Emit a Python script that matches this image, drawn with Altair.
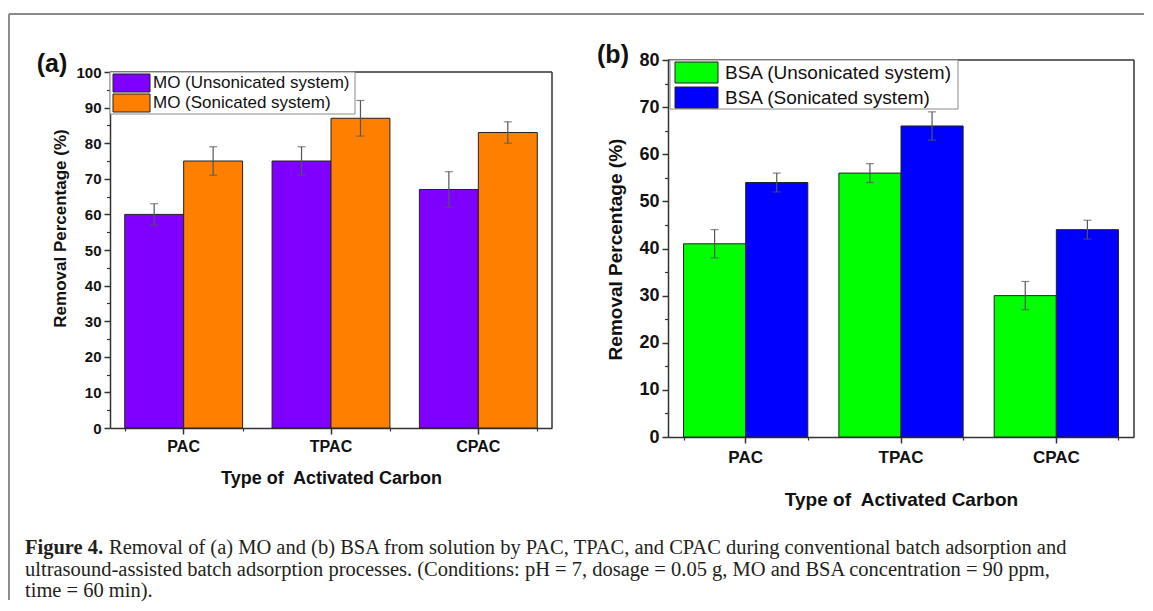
import altair as alt
import pandas as pd

# ---------------- data ----------------
categories = ["PAC", "TPAC", "CPAC"]

mo_series = ["MO (Unsonicated system)", "MO (Sonicated system)"]
mo_unsonicated = [60, 75, 67]
mo_unsonicated_err = [3, 4, 5]
mo_sonicated = [75, 87, 83]
mo_sonicated_err = [4, 5, 3]

bsa_series = ["BSA (Unsonicated system)", "BSA (Sonicated system)"]
bsa_unsonicated = [41, 56, 30]
bsa_unsonicated_err = [3, 2, 3]
bsa_sonicated = [54, 66, 44]
bsa_sonicated_err = [2, 3, 2]

mo_colors = ["#7F00FF", "#FF8000"]
bsa_colors = ["#00FF00", "#0000FF"]

y_major_a = list(range(0, 101, 10))
y_minor_a = list(range(5, 100, 10))
y_major_b = list(range(0, 81, 10))
y_minor_b = list(range(5, 80, 10))

x_title = "Type of\u00a0 Activated Carbon"
y_title = "Removal Percentage (%)"
caption_bold = "Figure 4."
caption_lines = [
    "Removal of (a) MO and (b) BSA from solution by PAC, TPAC, and CPAC during conventional batch adsorption and",
    "ultrasound-assisted batch adsorption processes. (Conditions: pH = 7, dosage = 0.05 g, MO and BSA concentration = 90 ppm,",
    "time = 60 min).",
]

F = "Liberation Sans"
FS = "Liberation Serif"
INK = "#111111"
AX = "#333333"


def panel_df(series, u, ue, s, se):
    rows = []
    for i, c in enumerate(categories):
        rows.append(dict(cat=c, series=series[0], value=u[i], lo=u[i] - ue[i], hi=u[i] + ue[i]))
        rows.append(dict(cat=c, series=series[1], value=s[i], lo=s[i] - se[i], hi=s[i] + se[i]))
    return pd.DataFrame(rows)


one = pd.DataFrame({"k": [0]})


def legend_layers(series, lg):
    bx = lg["box"]
    layers = [alt.Chart(one).mark_rect(fill="white", stroke="#8a8a8a", strokeWidth=1).encode(
        x=alt.value(bx[0]), x2=alt.value(bx[1]), y=alt.value(bx[2]), y2=alt.value(bx[3]))]
    for i, name in enumerate(series):
        d = pd.DataFrame({"series": [name]})
        y0, y1 = lg["rows"][i]
        layers.append(alt.Chart(d).mark_rect(stroke="#222222", strokeWidth=1).encode(
            x=alt.value(lg["sx"][0]), x2=alt.value(lg["sx"][1]),
            y=alt.value(y0), y2=alt.value(y1),
            color=alt.Color("series:N", sort=series, legend=None)))
        layers.append(alt.Chart(d).mark_text(font=F, fontSize=lg["fs"], color=INK, align="left",
                                             baseline="middle").encode(
            x=alt.value(lg["tx"]), y=alt.value((y0 + y1) / 2), text="series:N"))
    return layers


def make_panel(df, series, colors, W, H, ymax, yrange, major, minor, s, lg, tag, tag_xy, extras=()):
    xoff = alt.XOffset("series:N", sort=series, scale=alt.Scale(paddingInner=0, paddingOuter=0))
    yscale_kw = dict(domain=[0, ymax], nice=False, zero=True)
    if yrange is not None:
        yscale_kw["range"] = yrange
    base = alt.Chart(df)

    bars = base.mark_bar(stroke="#222222", strokeWidth=1, opacity=1).encode(
        x=alt.X("cat:N", sort=categories,
                scale=alt.Scale(paddingInner=0.2, paddingOuter=0.1),
                axis=alt.Axis(orient="bottom", title=x_title, labelAngle=0, labelFont=F,
                              labelFontWeight="bold", labelFontSize=s["xl"], labelColor=INK,
                              labelPadding=s["xlp"], labelBaseline="middle", tickSize=6,
                              tickWidth=1.5, tickColor=AX, domainColor=AX, domainWidth=1.5,
                              titleFont=F, titleFontWeight="bold", titleFontSize=s["xt"],
                              titleColor=INK, titleY=s["xty"], titleBaseline="middle")),
        xOffset=xoff,
        y=alt.Y("value:Q", scale=alt.Scale(**yscale_kw),
                axis=alt.Axis(orient="left", values=major, title=y_title, labelFont=F,
                              labelFontWeight="bold", labelFontSize=s["yl"], labelColor=INK,
                              labelPadding=3, tickSize=6, tickWidth=1.5, tickColor=AX,
                              domainColor=AX, domainWidth=1.5, grid=False, titleFont=F,
                              titleFontWeight="bold", titleFontSize=s["yt"], titleColor=INK,
                              titleX=s["ytx"], titleY=s["yty"], titleBaseline="middle")),
        color=alt.Color("series:N", sort=series,
                        scale=alt.Scale(domain=series, range=colors), legend=None),
    )

    minor_layer = base.mark_bar(opacity=0).encode(
        x=alt.X("cat:N", sort=categories,
                axis=alt.Axis(orient="bottom", tickBand="extent", labels=False, domain=False,
                              tickSize=3, tickWidth=1.2, tickColor=AX, title=None, grid=False)),
        xOffset=xoff,
        y=alt.Y("value:Q",
                axis=alt.Axis(orient="left", values=minor, labels=False, domain=False,
                              tickSize=3.5, tickWidth=1.2, tickColor=AX, title=None, grid=False)),
    )

    ex = alt.X("cat:N", sort=categories, axis=None)
    err_rule = base.mark_rule(color="#555555", strokeWidth=1.2).encode(
        x=ex, xOffset=xoff, y=alt.Y("lo:Q", axis=None), y2="hi:Q")
    cap_lo = base.mark_tick(color="#555555", thickness=1.2, size=8).encode(
        x=ex, xOffset=xoff, y=alt.Y("lo:Q", axis=None))
    cap_hi = base.mark_tick(color="#555555", thickness=1.2, size=8).encode(
        x=ex, xOffset=xoff, y=alt.Y("hi:Q", axis=None))

    top_line = alt.Chart(one).mark_rule(color=AX, strokeWidth=1.5).encode(
        x=alt.value(0), x2=alt.value(W), y=alt.YDatum(ymax, axis=None))
    right_line = alt.Chart(one).mark_rule(color=AX, strokeWidth=1.5).encode(
        x=alt.value(W), y=alt.YDatum(0, axis=None), y2=alt.Y2Datum(ymax))

    tag_text = alt.Chart(one).mark_text(text=tag, font=F, fontSize=25, fontWeight="bold",
                                        color=INK, align="center", baseline="middle").encode(
        x=alt.value(tag_xy[0]), y=alt.value(tag_xy[1]))

    return alt.layer(bars, minor_layer, err_rule, cap_lo, cap_hi, top_line, right_line,
                     *legend_layers(series, lg), tag_text, *extras).resolve_axis(
        x="independent", y="independent").properties(width=W, height=H)


# ---------------- figure frame + caption (drawn in panel a's coordinates) ----------------
frame_left = alt.Chart(one).mark_rule(color="#8c8c8c", strokeWidth=2).encode(
    x=alt.value(-101), y=alt.value(-46), y2=alt.value(540))
frame_top = alt.Chart(one).mark_rule(color="#8c8c8c", strokeWidth=2).encode(
    x=alt.value(-101), x2=alt.value(1034), y=alt.value(-46))

cap_kw = dict(font=FS, fontSize=20.5, color="#231f20", align="left", baseline="middle")
cap_b = alt.Chart(one).mark_text(text=caption_bold, fontWeight="bold", **cap_kw).encode(
    x=alt.value(-85), y=alt.value(488))
cap_1 = alt.Chart(one).mark_text(text=caption_lines[0], **cap_kw).encode(
    x=alt.value(-1), y=alt.value(488))
cap_2 = alt.Chart(one).mark_text(text=caption_lines[1], **cap_kw).encode(
    x=alt.value(-85), y=alt.value(510))
cap_3 = alt.Chart(one).mark_text(text=caption_lines[2], **cap_kw).encode(
    x=alt.value(-85), y=alt.value(531))

df_a = panel_df(mo_series, mo_unsonicated, mo_unsonicated_err, mo_sonicated, mo_sonicated_err)
df_b = panel_df(bsa_series, bsa_unsonicated, bsa_unsonicated_err, bsa_sonicated, bsa_sonicated_err)

panel_a = make_panel(
    df_a, mo_series, mo_colors, W=442, H=368, ymax=100, yrange=[368, 12],
    major=y_major_a, minor=y_minor_a,
    s=dict(xl=16, xlp=12, xt=18, xty=50, yl=15, yt=17, ytx=-50, yty=168),
    lg=dict(box=(0, 245, 12, 54), sx=(3, 40), rows=[(14, 32), (34, 52)], tx=43, fs=17),
    tag="(a)", tag_xy=(-58, 4),
    extras=(frame_left, frame_top, cap_b, cap_1, cap_2, cap_3),
)

panel_b = make_panel(
    df_b, bsa_series, bsa_colors, W=466, H=377, ymax=80, yrange=None,
    major=y_major_b, minor=y_minor_b,
    s=dict(xl=17, xlp=14, xt=19, xty=62, yl=18, yt=19, ytx=-53, yty=189),
    lg=dict(box=(2, 290, 0, 49), sx=(7, 50), rows=[(2, 23), (27, 48)], tx=57, fs=19),
    tag="(b)", tag_xy=(-55, -5),
)

chart = alt.hconcat(panel_a, panel_b, spacing=116, bounds="flush").resolve_scale(
    color="independent", xOffset="independent"
).properties(
    padding={"left": 0, "top": 5, "right": 0, "bottom": 0}
).configure_view(stroke=None)

chart.save("out.html", embed_options={"renderer": "svg", "actions": False})
